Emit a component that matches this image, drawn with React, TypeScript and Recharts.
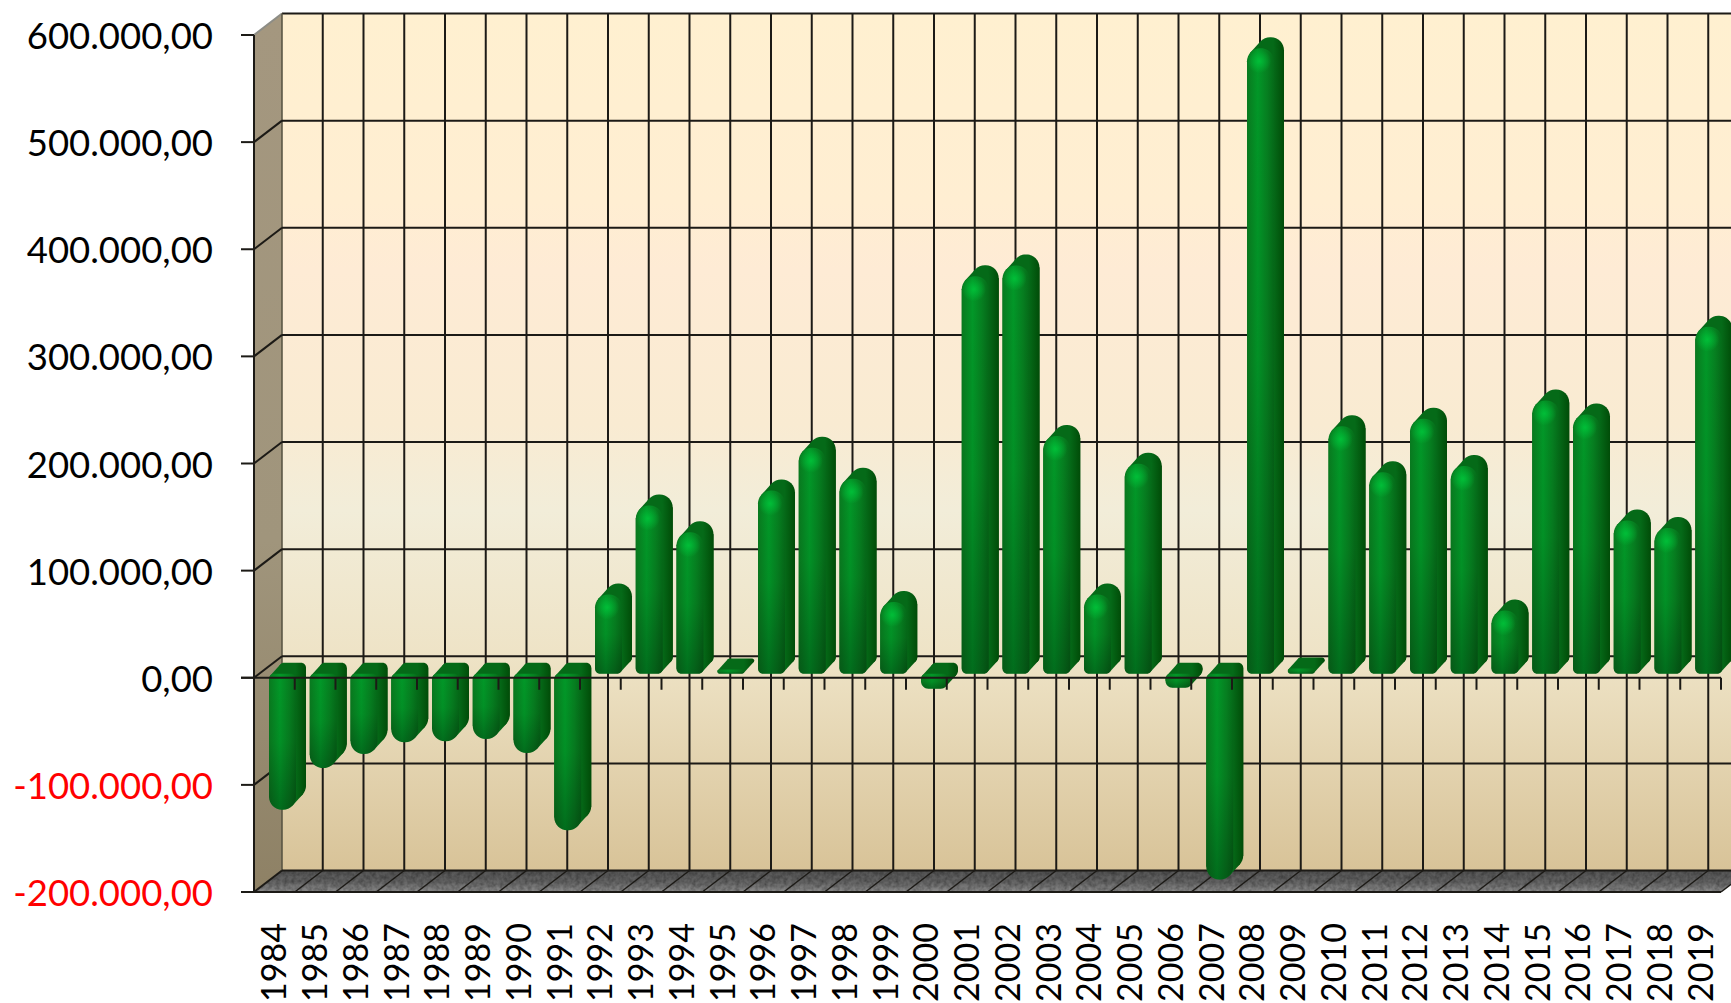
import { BarChart, Bar, CartesianGrid, ReferenceLine, XAxis, YAxis, usePlotArea } from "recharts";

const years = [
  "1984", "1985", "1986", "1987", "1988", "1989", "1990", "1991", "1992",
  "1993", "1994", "1995", "1996", "1997", "1998", "1999", "2000", "2001",
  "2002", "2003", "2004", "2005", "2006", "2007", "2008", "2009", "2010",
  "2011", "2012", "2013", "2014", "2015", "2016", "2017", "2018", "2019",
];
const saldo = [
  -127000, -88000, -75000, -64000, -63000, -61000, -74000, -146000, 74000,
  157000, 132000, 4000, 171000, 211000, 182000, 67000, -14000, 371000,
  381000, 222000, 74000, 196000, -13000, -192000, 584000, 5000, 231000,
  188000, 238000, 194000, 59000, 255000, 242000, 143000, 136000, 324000,
];
const yTicks = [-200000, -100000, 0, 100000, 200000, 300000, 400000, 500000, 600000];

const data = years.map((year, i) => ({ year, saldo: saldo[i] }));

const LINE = "#1c1a16";
const FONT = "Lato, 'Open Sans', sans-serif";
const PLOT_LEFT = 254;
const PLOT_TOP = 35;
// depth of the fake 3d box
const DX = 28;
const DY = 21.5;

const fmt = (v: number) =>
  v.toLocaleString("de-DE", { minimumFractionDigits: 2, maximumFractionDigits: 2 });

function Walls() {
  const plot = usePlotArea();
  if (!plot) return null;
  const { x, y, width, height } = plot;
  const bottom = y + height;
  const right = x + width;
  const floor = `${x},${bottom} ${right},${bottom} ${right + DX},${bottom - DY} ${x + DX},${bottom - DY}`;
  return (
    <g>
      <rect x={x + DX} y={y - DY} width={width} height={height} fill="url(#wallBack)" />
      <polygon
        points={`${x},${y} ${x + DX},${y - DY} ${x + DX},${bottom - DY} ${x},${bottom}`}
        fill="url(#wallLeft)"
      />
      <polygon points={floor} fill="url(#floorFill)" filter="url(#floorNoise)" />
      <line x1={x + DX} x2={right + DX} y1={y - DY} y2={y - DY} stroke={LINE} strokeWidth={2} />
      <line x1={x} x2={x + DX} y1={y} y2={y - DY} stroke="#8d8d86" strokeWidth={2} />
      <line x1={x + DX} x2={x + DX} y1={y - DY} y2={bottom - DY} stroke="#55503f" strokeWidth={1.5} />
    </g>
  );
}

function HorizontalGrid(props: any) {
  const { x1, x2, y1 } = props;
  if (y1 <= PLOT_TOP + 1) return <g />;
  return (
    <g stroke={LINE} strokeWidth={2}>
      <line x1={x1} y1={y1} x2={x1 + DX} y2={y1 - DY} />
      <line x1={x1 + DX} y1={y1 - DY} x2={x2 + DX} y2={y1 - DY} />
    </g>
  );
}

function VerticalGrid(props: any) {
  const { x1, y1, y2, offset } = props;
  if (x1 <= PLOT_LEFT + 1) return <g />;
  const band = (offset?.width ?? 1467) / years.length;
  const bx = x1 + band / 2;
  return (
    <g stroke={LINE}>
      <line x1={bx + DX} y1={y1 - DY} x2={bx + DX} y2={y2 - DY} strokeWidth={2} />
      <line x1={bx} y1={y2} x2={bx + DX} y2={y2 - DY} strokeWidth={1.5} />
    </g>
  );
}

function ZeroLine(props: any) {
  const { x1, x2, y1 } = props;
  const band = (x2 - x1) / years.length;
  return (
    <g stroke={LINE}>
      <line x1={x1 - 13} x2={x2} y1={y1} y2={y1} strokeWidth={2} />
      {years.map((year, i) => (
        <line key={year} x1={x1 + band * (i + 1)} x2={x1 + band * (i + 1)} y1={y1} y2={y1 + 12} strokeWidth={2} />
      ))}
    </g>
  );
}

function YTick({ x, y, payload }: any) {
  return (
    <text
      x={x}
      y={y}
      dy={14}
      textAnchor="end"
      fontFamily={FONT}
      fontSize={36.5}
      fill={payload.value < 0 ? "#ff0000" : "#000000"}
    >
      {fmt(payload.value)}
    </text>
  );
}

function XTick({ x, payload }: any) {
  return (
    <text
      transform={`translate(${x + 12},923) rotate(-90)`}
      textAnchor="end"
      fontFamily={FONT}
      fontSize={34}
      fill="#000000"
    >
      {payload.value}
    </text>
  );
}

// extruded capsule: rounded on the value end, nearly flat on the zero end
function CapsuleBar({ x, y, width, height, payload }: any) {
  const negative = payload.saldo < 0;
  const h = Math.abs(height);
  const top = Math.min(y, y + height) - 4;
  const fx = x + 8;
  const depthX = 10;
  const depthY = 11;
  const big = Math.min(13, h / 2);
  const small = Math.min(5, h / 2);
  const rt = negative ? small : big;
  const rb = negative ? big : small;
  const bot = top + h;

  const outline = (ox: number, oy: number) =>
    `M${ox},${oy + rt} C${ox},${oy + rt * 0.45} ${ox + rt * 0.45},${oy} ${ox + rt},${oy} L${ox + width - rt},${oy} C${ox + width - rt * 0.45},${oy} ${ox + width},${oy + rt * 0.45} ${ox + width},${oy + rt} ` +
    `L${ox + width},${oy + h - rb} C${ox + width},${oy + h - rb * 0.45} ${ox + width - rb * 0.45},${oy + h} ${ox + width - rb},${oy + h} L${ox + rb},${oy + h} C${ox + rb * 0.45},${oy + h} ${ox},${oy + h - rb * 0.45} ${ox},${oy + h - rb} Z`;

  // tangent points between the front and the back outline
  const hull = [
    [fx + rt * 0.26, top + rt * 0.33],
    [fx + depthX + rt * 0.26, top - depthY + rt * 0.33],
    [fx + depthX + width, top - depthY + rt],
    [fx + depthX + width, bot - depthY - rb],
    [fx + depthX + width - rb * 0.26, bot - depthY - rb * 0.33],
    [fx + width - rb * 0.26, bot - rb * 0.33],
    [fx, bot - rb],
    [fx, top + rt],
  ]
    .map((p) => p.join(","))
    .join(" ");

  return (
    <g>
      <path d={outline(fx + depthX, top - depthY)} fill="url(#barBack)" />
      <polygon points={hull} fill="url(#barSide)" />
      <path d={outline(fx, top)} fill="url(#barFront)" />
      <path d={outline(fx, top)} fill="url(#barShade)" />
      {!negative && h > 30 && <circle cx={fx + width * 0.45} cy={top + 13} r={12} fill="url(#barGlow)" />}
    </g>
  );
}

export default function App() {
  return (
    <div style={{ position: "absolute", left: 0, top: 0, width: 1731, height: 1003, overflow: "hidden" }}>
      <BarChart
        width={1731}
        height={1003}
        data={data}
        barSize={27}
        margin={{ top: PLOT_TOP, right: 10, bottom: 0, left: 0 }}
      >
        <defs>
          <linearGradient id="wallBack" x1="0" y1="0" x2="0" y2="1">
            <stop offset="0%" stopColor="#fff0d0" />
            <stop offset="22%" stopColor="#ffeed2" />
            <stop offset="30%" stopColor="#feebd5" />
            <stop offset="48%" stopColor="#f9ebd2" />
            <stop offset="58%" stopColor="#f2edd9" />
            <stop offset="75%" stopColor="#eee3c6" />
            <stop offset="100%" stopColor="#d8c398" />
          </linearGradient>
          <linearGradient id="wallLeft" x1="0" y1="0" x2="0" y2="1">
            <stop offset="0%" stopColor="#a4977f" />
            <stop offset="60%" stopColor="#a0957c" />
            <stop offset="100%" stopColor="#8e8165" />
          </linearGradient>
          <linearGradient id="floorFill" x1="0" y1="0" x2="0" y2="1">
            <stop offset="0%" stopColor="#555555" />
            <stop offset="55%" stopColor="#666666" />
            <stop offset="100%" stopColor="#8e8e8e" />
          </linearGradient>
          <linearGradient id="barFront" x1="0" y1="0" x2="1" y2="0">
            <stop offset="0%" stopColor="#097a1f" />
            <stop offset="40%" stopColor="#029828" />
            <stop offset="75%" stopColor="#067f20" />
            <stop offset="100%" stopColor="#056a18" />
          </linearGradient>
          <linearGradient id="barSide" x1="0" y1="0" x2="1" y2="0">
            <stop offset="0%" stopColor="#056a18" />
            <stop offset="72%" stopColor="#056a18" />
            <stop offset="100%" stopColor="#014c08" />
          </linearGradient>
          <linearGradient id="barBack" x1="0" y1="0" x2="1" y2="0">
            <stop offset="0%" stopColor="#056a18" />
            <stop offset="60%" stopColor="#056a18" />
            <stop offset="100%" stopColor="#014c08" />
          </linearGradient>
          <linearGradient id="barShade" x1="0" y1="0" x2="0" y2="1">
            <stop offset="0%" stopColor="#000" stopOpacity={0} />
            <stop offset="50%" stopColor="#000" stopOpacity={0.05} />
            <stop offset="100%" stopColor="#000" stopOpacity={0.28} />
          </linearGradient>
          <radialGradient id="barGlow">
            <stop offset="0%" stopColor="#00c83c" stopOpacity={0.8} />
            <stop offset="100%" stopColor="#00c83c" stopOpacity={0} />
          </radialGradient>
          <filter id="floorNoise" x="0" y="0" width="100%" height="100%">
            <feTurbulence type="fractalNoise" baseFrequency="0.25" numOctaves={2} seed={4} result="n" />
            <feColorMatrix in="n" type="matrix" values="0 0 0 0 0  0 0 0 0 0  0 0 0 0 0  0.9 0 0 0 -0.25" result="d" />
            <feComposite in="d" in2="SourceGraphic" operator="in" result="m" />
            <feMerge>
              <feMergeNode in="SourceGraphic" />
              <feMergeNode in="m" />
            </feMerge>
          </filter>
        </defs>
        <Walls />
        <CartesianGrid horizontal={HorizontalGrid} vertical={VerticalGrid} zIndex={1} />
        <XAxis dataKey="year" interval={0} height={111} tick={<XTick />} tickLine={false} axisLine={{ stroke: LINE, strokeWidth: 2 }} />
        <YAxis
          width={PLOT_LEFT}
          domain={[-200000, 600000]}
          ticks={yTicks}
          interval={0}
          tick={<YTick />}
          tickSize={13}
          tickMargin={28}
          stroke={LINE}
          tickLine={{ stroke: LINE, strokeWidth: 2 }}
          axisLine={{ stroke: LINE, strokeWidth: 2 }}
        />
        <Bar dataKey="saldo" shape={<CapsuleBar />} isAnimationActive={false} />
        <ReferenceLine y={0} shape={<ZeroLine />} />
      </BarChart>
    </div>
  );
}
